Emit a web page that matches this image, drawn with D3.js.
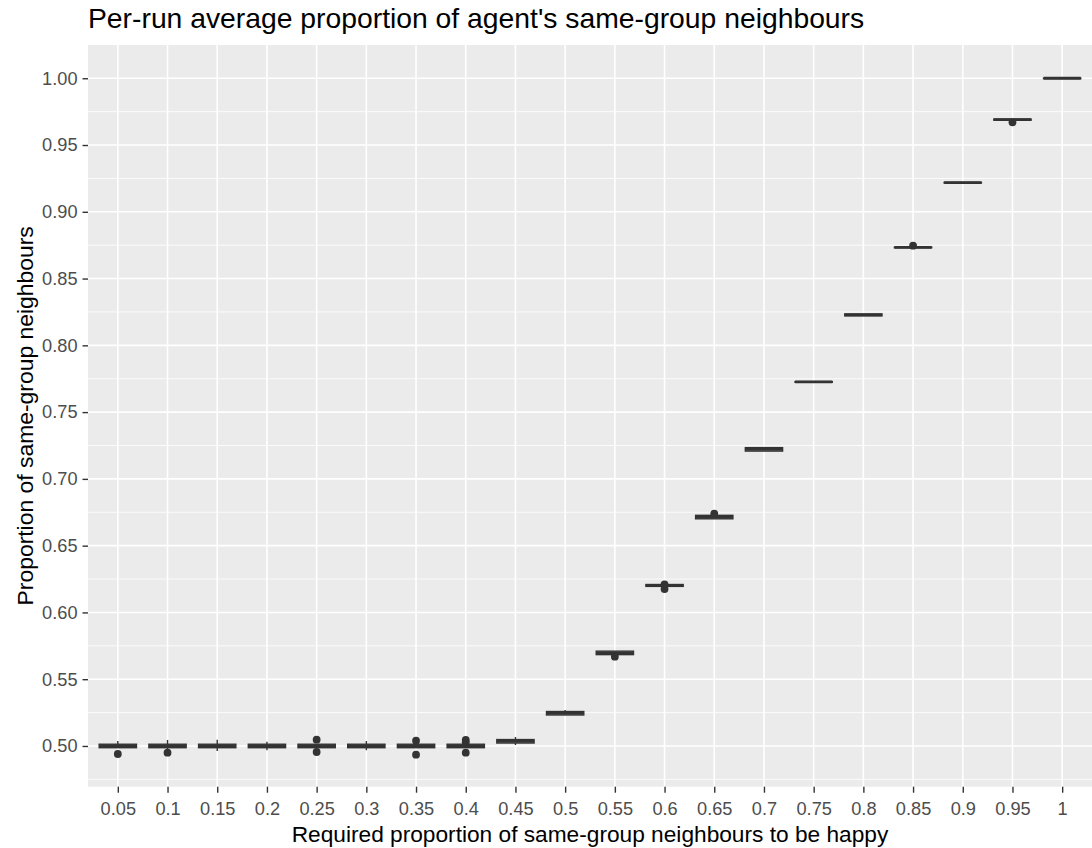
<!DOCTYPE html>
<html>
<head>
<meta charset="utf-8">
<script src="https://cdn.jsdelivr.net/npm/d3@7"></script>
<style>
    body { margin: 0; background: #fff; }
    svg { display: block; font-family: "Liberation Sans", Arial, sans-serif; }
</style>
</head>
<body>
<svg id="chart"></svg>
<script>
"use strict";

const categories = ["0.05", "0.1", "0.15", "0.2", "0.25", "0.3", "0.35", "0.4", "0.45", "0.5",
    "0.55", "0.6", "0.65", "0.7", "0.75", "0.8", "0.85", "0.9", "0.95", "1"];

const medians = [0.5000, 0.5000, 0.5000, 0.5000, 0.5000, 0.5000, 0.5000, 0.5000, 0.5035, 0.5245,
    0.5697, 0.6202, 0.6714, 0.7221, 0.7726, 0.8228, 0.8733, 0.9218, 0.9690, 1.0000];

const lowerHinges = [0.4987, 0.4987, 0.4987, 0.4987, 0.4987, 0.4987, 0.4987, 0.4987, 0.5022, 0.5232,
    0.5684, 0.6195, 0.6701, 0.7208, 0.7724, 0.8221, 0.8731, 0.9216, 0.9686, 0.9998];

const upperHinges = [0.5013, 0.5013, 0.5013, 0.5013, 0.5013, 0.5013, 0.5013, 0.5013, 0.5048, 0.5258,
    0.5710, 0.6209, 0.6727, 0.7234, 0.7728, 0.8235, 0.8735, 0.9220, 0.9694, 1.0000];

const lowerWhiskers = [0.4987, 0.4975, 0.4963, 0.4968, 0.4987, 0.4968, 0.4987, 0.4987, 0.5007, 0.5232,
    0.5684, 0.6195, 0.6701, 0.7208, 0.7724, 0.8221, 0.8731, 0.9216, 0.9686, 0.9998];

const upperWhiskers = [0.5037, 0.5045, 0.5047, 0.5032, 0.5013, 0.5037, 0.5013, 0.5013, 0.5067, 0.5270,
    0.5710, 0.6209, 0.6727, 0.7234, 0.7728, 0.8235, 0.8735, 0.9220, 0.9694, 1.0000];

const outlierCats = ["0.05", "0.1", "0.25", "0.25", "0.35", "0.35", "0.4", "0.4", "0.4",
    "0.55", "0.6", "0.6", "0.65", "0.85", "0.95"];
const outlierValues = [0.4940, 0.4950, 0.5047, 0.4955, 0.5040, 0.4935, 0.5045, 0.5027, 0.4950,
    0.5669, 0.6210, 0.6175, 0.6739, 0.8746, 0.9670];

const yTicks = [0.50, 0.55, 0.60, 0.65, 0.70, 0.75, 0.80, 0.85, 0.90, 0.95, 1.00];
const yMinorTicks = [0.475, 0.525, 0.575, 0.625, 0.675, 0.725, 0.775, 0.825, 0.875, 0.925, 0.975, 1.025];
const yDomain = [0.4695, 1.0249];

const titleText = "Per-run average proportion of agent's same-group neighbours";
const xTitleText = "Required proportion of same-group neighbours to be happy";
const yTitleText = "Proportion of same-group neighbours";

const width = 1092;
const height = 848;
const panel = { left: 88, right: 1092, top: 45, bottom: 786.7 };

const boxes = categories.map((c, i) => ({
    cat: c,
    lo: lowerWhiskers[i],
    q1: lowerHinges[i],
    med: medians[i],
    q3: upperHinges[i],
    hi: upperWhiskers[i]
}));
const outliers = outlierCats.map((c, i) => ({ cat: c, value: outlierValues[i] }));

const svg = d3.select('#chart')
    .attr('width', width)
    .attr('height', height);

const x = d3.scalePoint()
    .domain(categories)
    .range([panel.left, panel.right])
    .padding(0.6);

const y = d3.scaleLinear()
    .domain(yDomain)
    .range([panel.bottom, panel.top]);

const boxWidth = x.step() * 0.75;

// panel + grid
svg.append('rect')
    .attr('x', panel.left)
    .attr('y', panel.top)
    .attr('width', panel.right - panel.left)
    .attr('height', panel.bottom - panel.top)
    .attr('fill', '#EBEBEB');

const grid = svg.append('g');

grid.selectAll('.minor')
    .data(yMinorTicks.filter(t => y(t) > panel.top && y(t) < panel.bottom))
    .join('line')
    .attr('x1', panel.left).attr('x2', panel.right)
    .attr('y1', d => y(d)).attr('y2', d => y(d))
    .attr('stroke', '#fff').attr('stroke-width', 0.8);

grid.selectAll('.major-y')
    .data(yTicks)
    .join('line')
    .attr('x1', panel.left).attr('x2', panel.right)
    .attr('y1', d => y(d)).attr('y2', d => y(d))
    .attr('stroke', '#fff').attr('stroke-width', 1.6);

grid.selectAll('.major-x')
    .data(categories)
    .join('line')
    .attr('x1', d => x(d)).attr('x2', d => x(d))
    .attr('y1', panel.top).attr('y2', panel.bottom)
    .attr('stroke', '#fff').attr('stroke-width', 1.6);

// boxplots
const dark = '#333333';
const box = svg.append('g')
    .selectAll('g')
    .data(boxes)
    .join('g');

box.append('line')
    .attr('x1', d => x(d.cat)).attr('x2', d => x(d.cat))
    .attr('y1', d => y(d.hi)).attr('y2', d => y(d.q3))
    .attr('stroke', dark).attr('stroke-width', 1.4);

box.append('line')
    .attr('x1', d => x(d.cat)).attr('x2', d => x(d.cat))
    .attr('y1', d => y(d.q1)).attr('y2', d => y(d.lo))
    .attr('stroke', dark).attr('stroke-width', 1.4);

box.append('rect')
    .attr('x', d => x(d.cat) - boxWidth / 2)
    .attr('width', boxWidth)
    .attr('y', d => y(d.q3))
    .attr('height', d => y(d.q1) - y(d.q3))
    .attr('fill', '#fff')
    .attr('stroke', dark).attr('stroke-width', 1.4);

box.append('line')
    .attr('x1', d => x(d.cat) - boxWidth / 2).attr('x2', d => x(d.cat) + boxWidth / 2)
    .attr('y1', d => y(d.med)).attr('y2', d => y(d.med))
    .attr('stroke', dark).attr('stroke-width', 2.8);

svg.append('g')
    .selectAll('circle')
    .data(outliers)
    .join('circle')
    .attr('cx', d => x(d.cat))
    .attr('cy', d => y(d.value))
    .attr('r', 3.9)
    .attr('fill', dark);

// axes
const yAxis = svg.append('g')
    .attr('transform', `translate(${panel.left},0)`)
    .call(d3.axisLeft(y).tickValues(yTicks).tickFormat(d3.format('.2f')).tickSize(5.5).tickPadding(5));

const xAxis = svg.append('g')
    .attr('transform', `translate(0,${panel.bottom})`)
    .call(d3.axisBottom(x).tickSize(6).tickPadding(9));

[yAxis, xAxis].forEach(a => {
    a.select('.domain').remove();
    a.selectAll('.tick line').attr('stroke', dark).attr('stroke-width', 1.4);
    a.selectAll('.tick text')
        .attr('fill', '#4D4D4D')
        .style('font-size', '18.2px')
        .style('font-family', '"Liberation Sans", Arial, sans-serif');
});

// titles
svg.append('text')
    .attr('x', panel.left)
    .attr('y', 28.3)
    .attr('fill', '#000')
    .style('font-size', '28.3px')
    .text(titleText);

svg.append('text')
    .attr('x', (panel.left + panel.right) / 2)
    .attr('y', 842)
    .attr('text-anchor', 'middle')
    .attr('fill', '#000')
    .style('font-size', '22.7px')
    .text(xTitleText);

svg.append('text')
    .attr('transform', `translate(33,${(panel.top + panel.bottom) / 2}) rotate(-90)`)
    .attr('text-anchor', 'middle')
    .attr('fill', '#000')
    .style('font-size', '22.9px')
    .text(yTitleText);
</script>
</body>
</html>
